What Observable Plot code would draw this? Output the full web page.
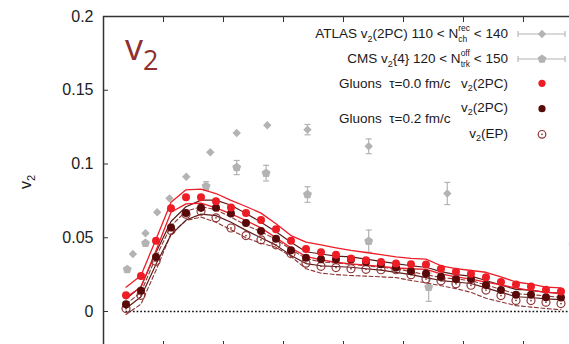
<!DOCTYPE html>
<html><head><meta charset="utf-8">
<script src="https://cdn.jsdelivr.net/npm/d3@7"></script>
<script src="https://cdn.jsdelivr.net/npm/@observablehq/plot@0.6"></script>
<style>
html,body{margin:0;padding:0;background:#fff;overflow:hidden}
#chart{width:569px;height:344px}
</style>
</head><body><div id="chart"></div>
<script>
// ---- data ----
const pT = [0.375,0.625,0.875,1.125,1.375,1.625,1.875,2.125,2.375,2.625,2.875,3.125,3.375,3.625,3.875,4.125,4.375,4.625,4.875,5.125,5.375,5.625,5.875,6.125,6.375,6.625,6.875,7.125,7.375,7.625];
// Gluons tau=0.0 fm/c, v2(2PC)
const red   = [0.011,0.024,0.048,0.070,0.0775,0.0775,0.0748,0.0705,0.0667,0.062,0.0558,0.048,0.0423,0.0402,0.0385,0.036,0.0348,0.0335,0.0325,0.032,0.0318,0.029,0.027,0.0256,0.0233,0.020,0.0183,0.0169,0.0147,0.0135];
const redUp = [0.0165,0.0244,0.049,0.074,0.0825,0.083,0.080,0.0753,0.0712,0.0667,0.0595,0.0515,0.047,0.0452,0.0432,0.0414,0.040,0.0385,0.037,0.036,0.0355,0.031,0.029,0.0278,0.0266,0.0235,0.020,0.0186,0.0165,0.016];
const redLo = [0.0097,0.0165,0.0414,0.0673,0.073,0.0734,0.0703,0.0662,0.0617,0.0567,0.050,0.0432,0.0373,0.035,0.0334,0.0323,0.0315,0.0305,0.0295,0.029,0.0285,0.0255,0.0235,0.022,0.0199,0.018,0.016,0.0142,0.0131,0.0122];
// Gluons tau=0.2 fm/c, v2(2PC)
const dark   = [0.005,0.014,0.037,0.057,0.0667,0.0703,0.0703,0.0665,0.060,0.0545,0.0494,0.0416,0.0364,0.0355,0.0355,0.0353,0.0336,0.032,0.0298,0.0275,0.0258,0.0235,0.022,0.022,0.018,0.0145,0.0113,0.0114,0.0097,0.0095];
const darkUp = [0.0085,0.017,0.040,0.061,0.071,0.0755,0.0755,0.072,0.0665,0.0605,0.054,0.047,0.0405,0.039,0.0375,0.037,0.0355,0.034,0.0325,0.031,0.030,0.027,0.025,0.024,0.021,0.018,0.015,0.0145,0.013,0.0125];
const darkLo = [0.002,0.010,0.032,0.052,0.062,0.066,0.065,0.0605,0.055,0.050,0.045,0.038,0.0325,0.031,0.0305,0.030,0.029,0.028,0.0265,0.025,0.023,0.021,0.020,0.019,0.016,0.013,0.010,0.0095,0.0085,0.008];
// Gluons tau=0.2 fm/c, v2(EP)
const ep   = [0.002,0.011,0.034,0.055,0.066,0.068,0.0635,0.0566,0.0515,0.0486,0.0452,0.0393,0.0328,0.0306,0.0298,0.029,0.0286,0.0283,0.0283,0.025,0.022,0.0208,0.0188,0.0178,0.0145,0.0108,0.0075,0.0074,0.0063,0.0054];
const epUp = [0.005,0.013,0.037,0.058,0.068,0.071,0.069,0.064,0.0585,0.054,0.049,0.042,0.036,0.0335,0.033,0.032,0.031,0.030,0.029,0.027,0.025,0.023,0.022,0.021,0.018,0.015,0.012,0.0115,0.0105,0.0095];
const epLo = [-0.002,0.005,0.028,0.0527,0.0617,0.064,0.0605,0.0554,0.050,0.0463,0.0436,0.0373,0.029,0.026,0.025,0.0244,0.024,0.0235,0.023,0.021,0.0195,0.0175,0.0155,0.013,0.009,0.0065,0.004,0.003,0.002,0.0012];
// ATLAS v2(2PC) 110 < Nch < 140
const atlasX   = [0.49,0.70,0.895,1.10,1.38,1.78,2.22,2.73,3.40,4.42,5.73,7.82];
const atlasY   = [0.039,0.053,0.0673,0.0767,0.0913,0.108,0.121,0.1263,0.1233,0.112,0.080,0.046];
const atlasErr = [0,0,0,0,0,0.001,0.0015,0.0015,0.0035,0.005,0.0075,0.013];
// CMS v2{4} 120 < Ntrk < 150
const cmsX   = [0.395,0.70,1.71,2.22,2.71,3.40,4.42,5.42];
const cmsY   = [0.0285,0.0463,0.085,0.0976,0.0938,0.0793,0.0477,0.0165];
const cmsErr = [0.001,0.0012,0.003,0.0048,0.0053,0.0053,0.0075,0.0096];
// axes
const xDomain = [0, 7.767];
const yDomain = [-0.02237, 0.2];
const xTicks = [1,2,3,4,5,6,7];
const yTicks = [0,0.05,0.1,0.15,0.2];
const yTickLabels = ["0","0.05","0.1","0.15","0.2"];

// ---- build ----
const rows = pT.map((x,i)=>({x, red:red[i], redUp:redUp[i], redLo:redLo[i], dark:dark[i], darkUp:darkUp[i], darkLo:darkLo[i], ep:ep[i], epUp:epUp[i], epLo:epLo[i]}));
const atlas = atlasX.map((x,i)=>({x, y:atlasY[i], e:atlasErr[i]}));
const cms = cmsX.map((x,i)=>({x, y:cmsY[i], e:cmsErr[i]}));
const caps = d => d.filter(p=>p.e>0.0015).flatMap(p=>[{x:p.x,y:p.y+p.e},{x:p.x,y:p.y-p.e}]);

const pentagon = {draw(ctx, size){ const R=Math.sqrt(size/2.3776); for(let k=0;k<5;k++){const a=-Math.PI/2+k*2*Math.PI/5; const px=R*Math.cos(a), py=R*Math.sin(a); if(k) ctx.lineTo(px,py); else ctx.moveTo(px,py);} ctx.closePath(); }};
const hcap = {draw(ctx, size){ const w=Math.sqrt(size); ctx.moveTo(-w/2,0); ctx.lineTo(w/2,0); }};

const RED="#ee1c25", DARK="#580a0a", EPC="#8e3535", GRAY="#b3b3b3", AX="#333";

const plot = Plot.plot({
  width:569, height:344,
  marginLeft:103, marginRight:0, marginTop:16, marginBottom:0,
  x:{domain:xDomain}, y:{domain:yDomain},
  style:{fontFamily:"'Liberation Sans', Arial, sans-serif", fontSize:"16px", color:"#222", background:"white"},
  marks:[
    // gray data
    Plot.ruleX(atlas.filter(d=>d.e>0.0015), {x:"x", y1:d=>d.y-d.e, y2:d=>d.y+d.e, stroke:GRAY, strokeWidth:1.2, clip:true}),
    Plot.dot(caps(atlas), {x:"x", y:"y", symbol:hcap, r:3.4, stroke:GRAY, strokeWidth:1.2, fill:"none", clip:true}),
    Plot.ruleX(cms.filter(d=>d.e>0.0015), {x:"x", y1:d=>d.y-d.e, y2:d=>d.y+d.e, stroke:GRAY, strokeWidth:1.2, clip:true}),
    Plot.dot(caps(cms), {x:"x", y:"y", symbol:hcap, r:3.4, stroke:GRAY, strokeWidth:1.2, fill:"none", clip:true}),
    Plot.dot(atlas, {x:"x", y:"y", symbol:"diamond2", r:3.8, fill:GRAY, stroke:"none", clip:true}),
    Plot.dot(cms, {x:"x", y:"y", symbol:pentagon, r:4.1, fill:GRAY, stroke:"none", clip:true}),
    // zero line
    Plot.ruleY([0], {x1:pT[0], x2:xDomain[1], stroke:"#111", strokeWidth:1.7, strokeDasharray:"1.7,2"}),
    // model bands
    Plot.line(rows, {x:"x", y:"epUp", stroke:EPC, strokeWidth:1.1, strokeDasharray:"4,2.5"}),
    Plot.line(rows, {x:"x", y:"epLo", stroke:EPC, strokeWidth:1.1, strokeDasharray:"4,2.5"}),
    Plot.line(rows, {x:"x", y:"darkUp", stroke:"#5e1a1a", strokeWidth:1.2}),
    Plot.line(rows, {x:"x", y:"darkLo", stroke:"#5e1a1a", strokeWidth:1.2}),
    Plot.line(rows, {x:"x", y:"redUp", stroke:RED, strokeWidth:1.3}),
    Plot.line(rows, {x:"x", y:"redLo", stroke:RED, strokeWidth:1.3}),
    // model points
    Plot.dot(rows, {x:"x", y:"ep", r:4, stroke:EPC, strokeWidth:1.2, fill:"none"}),
    Plot.dot(rows, {x:"x", y:"ep", r:0.9, fill:EPC, stroke:"none"}),
    Plot.dot(rows, {x:"x", y:"dark", r:4, fill:DARK, stroke:"none"}),
    Plot.dot(rows, {x:"x", y:"red", r:4, fill:RED, stroke:"none"}),
    // frame and axes
    Plot.ruleX([xDomain[0]], {stroke:AX, strokeWidth:1.5}),
    Plot.ruleY([yDomain[1]], {stroke:AX, strokeWidth:1.5}),
    Plot.axisY({ticks:yTicks, tickSize:0, tickPadding:10, tickFormat:(d,i)=>yTickLabels[i], fontSize:16, fill:"#222", label:null}),
    Plot.axisY({ticks:yTicks, tickSize:-5, tickFormat:()=>"", stroke:AX, label:null}),
    Plot.axisX({anchor:"top", ticks:xTicks, tickSize:-5, tickFormat:()=>"", stroke:AX, label:null}),
    Plot.axisX({anchor:"bottom", ticks:xTicks, tickSize:-3, tickFormat:()=>"", stroke:AX, label:null})
  ]
});
document.getElementById("chart").appendChild(plot);

// ---- annotations / legend ----
const svg = d3.select(plot);
const g = svg.append("g").attr("font-family","'Liberation Sans', Arial, sans-serif").attr("fill","#1a1a1a").attr("text-anchor","start");

// y-axis label v2
const yl = g.append("text").attr("transform","translate(31,182) rotate(-90)").attr("text-anchor","middle").attr("font-size",16);
yl.append("tspan").text("v");
yl.append("tspan").attr("font-size",11).attr("dy",4).text("2");

// title v2
const tt = g.append("text").attr("x",125).attr("y",60).attr("text-anchor","start").attr("fill","#8e3030").attr("font-family","'Open Sans', Lato, sans-serif").attr("font-size",36);
tt.append("tspan").text("v");
tt.append("tspan").attr("font-size",27).attr("dy",10).text("2");

function vsub(t, pre, post){
  t.append("tspan").text(pre);
  t.append("tspan").attr("font-size",9).attr("dy",3.5).text("2");
  t.append("tspan").attr("dy",-3.5).text(post);
}
// stacked sub/superscript on N, then trailing text
function nIdx(t, sub, sup, post){
  const s = t.append("tspan").attr("font-size",8.5).attr("dy",4).text(sub);
  const ws = s.node().getComputedTextLength();
  const p = t.append("tspan").attr("font-size",8.5).attr("dx",-ws).attr("dy",-11).text(sup);
  const wp = p.node().getComputedTextLength();
  t.append("tspan").attr("dx", Math.max(0, ws-wp)).attr("dy",7).text(post);
}
const FS = 13.5;
// row 1 ATLAS
let t = g.append("text").attr("x",508).attr("y",38.3).attr("text-anchor","end").attr("font-size",FS).style("white-space","pre");
vsub(t, "ATLAS v", "(2PC) 110 < N");
nIdx(t, "ch", "rec", " < 140");
// row 2 CMS
t = g.append("text").attr("x",508).attr("y",63.3).attr("text-anchor","end").attr("font-size",FS).style("white-space","pre");
vsub(t, "CMS v", "{4} 120 < N");
nIdx(t, "trk", "off", " < 150");
// row 3
g.append("text").attr("x",339).attr("y",87.7).attr("text-anchor","start").attr("font-size",FS).style("white-space","pre").text("Gluons  \u03c4=0.0 fm/c");
t = g.append("text").attr("x",508).attr("y",87.7).attr("text-anchor","end").attr("font-size",FS);
vsub(t, "v", "(2PC)");
// row 4
t = g.append("text").attr("x",508).attr("y",111.7).attr("text-anchor","end").attr("font-size",FS);
vsub(t, "v", "(2PC)");
g.append("text").attr("x",339).attr("y",123.3).attr("text-anchor","start").attr("font-size",FS).style("white-space","pre").text("Gluons  \u03c4=0.2 fm/c");
// row 5
t = g.append("text").attr("x",508).attr("y",137.7).attr("text-anchor","end").attr("font-size",FS);
vsub(t, "v", "(EP)");

// legend markers
const lx = 542;
[[34,d3.symbolDiamond2,44],[59,pentagon,50]].forEach(([y,sym,size])=>{
  g.append("line").attr("x1",518).attr("x2",565).attr("y1",y).attr("y2",y).attr("stroke",GRAY).attr("stroke-width",1.1);
  g.append("line").attr("x1",518).attr("x2",518).attr("y1",y-3).attr("y2",y+3).attr("stroke",GRAY).attr("stroke-width",1.1);
  g.append("line").attr("x1",565).attr("x2",565).attr("y1",y-3).attr("y2",y+3).attr("stroke",GRAY).attr("stroke-width",1.1);
  g.append("path").attr("d",d3.symbol(sym,size)()).attr("transform",`translate(${lx},${y})`).attr("fill",GRAY);
});
g.append("circle").attr("cx",lx).attr("cy",83.3).attr("r",3.6).attr("fill",RED);
g.append("circle").attr("cx",lx).attr("cy",108.7).attr("r",3.6).attr("fill",DARK);
g.append("circle").attr("cx",lx).attr("cy",134.3).attr("r",3.8).attr("fill","none").attr("stroke",EPC).attr("stroke-width",1.2);
g.append("circle").attr("cx",lx).attr("cy",134.3).attr("r",0.9).attr("fill",EPC);
</script>
</body></html>
